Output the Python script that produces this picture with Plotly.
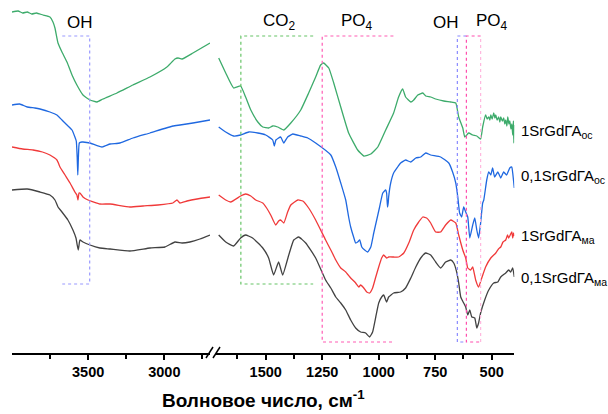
import plotly.graph_objects as go

W, H = 608, 414

# FTIR spectra: (wavenumber cm-1, transmittance a.u. with vertical offsets)
green = [(4000, 341), (3960, 342), (3930, 340), (3900, 341), (3870, 339), (3840, 340),
         (3797, 338), (3751, 336), (3731, 331), (3718, 325), (3698, 310), (3672, 301),
         (3639, 291), (3606, 278), (3574, 268), (3534, 258), (3488, 253), (3442, 251),
         (3403, 254), (3311, 260), (3206, 268), (3094, 276), (2983, 286), (2930, 294),
         (2910, 295), (2884, 294), (2812, 300), (2700, 310),
         (1708, 295), (1677, 280), (1642, 265), (1611, 267), (1589, 256), (1566, 243),
         (1535, 231), (1513, 226), (1487, 225), (1469, 227), (1447, 226), (1420, 223),
         (1389, 230), (1345, 243), (1310, 260), (1279, 276), (1257, 288), (1244, 290),
         (1221, 285), (1199, 270), (1168, 246), (1133, 220), (1093, 203), (1066, 197),
         (1035, 199), (1004, 206), (969, 223), (934, 240), (912, 256), (894, 264),
         (881, 256), (858, 251), (845, 253), (827, 258), (805, 260), (792, 257),
         (770, 256), (748, 254), (712, 252), (681, 251), (659, 250), (646, 236),
         (628, 225), (619, 216), (602, 220), (584, 218), (566, 217), (549, 214),
         (540, 226), (527, 238), (520, 234), (513, 236), (508, 233), (504, 238),
         (498, 234), (491, 240), (486, 235), (482, 238), (476, 233), (469, 236),
         (464, 231), (460, 236), (453, 232), (447, 235), (442, 229), (438, 233),
         (433, 227), (429, 236), (424, 229), (420, 232), (415, 224), (411, 229),
         (407, 218), (404, 232), (402, 210), (400, 228)]

blue = [(4000, 248), (3950, 249), (3900, 246), (3850, 245), (3816, 244), (3751, 241),
        (3705, 238), (3672, 233), (3639, 228), (3606, 223), (3587, 216), (3578, 212),
        (3572, 196), (3568, 178), (3564, 196), (3558, 210), (3541, 211), (3534, 211),
        (3488, 210), (3409, 206), (3356, 209), (3291, 210), (3206, 215), (3094, 220),
        (2944, 227), (2897, 228), (2812, 230), (2700, 233),
        (1708, 226), (1677, 221), (1642, 217), (1611, 218), (1575, 221), (1535, 220),
        (1500, 218), (1469, 213), (1462, 207), (1455, 213), (1434, 216), (1420, 210),
        (1403, 216), (1380, 219), (1345, 217), (1314, 215), (1279, 210), (1212, 198),
        (1190, 186), (1168, 170), (1146, 153), (1133, 136), (1124, 126), (1111, 116),
        (1102, 110), (1093, 111), (1084, 113), (1075, 106), (1062, 103), (1049, 101),
        (1035, 106), (1022, 120), (1009, 133), (996, 146), (982, 160), (969, 163),
        (965, 160), (961, 146), (958, 150), (956, 156), (947, 170), (934, 180),
        (916, 186), (903, 190), (881, 193), (858, 191), (836, 195), (814, 196),
        (792, 200), (770, 198), (726, 196), (690, 190), (673, 181), (659, 170),
        (650, 156), (642, 140), (633, 136), (624, 146), (615, 141), (606, 136),
        (597, 115), (584, 128), (575, 135), (566, 123), (558, 115), (549, 130),
        (540, 150), (535, 153), (522, 173), (513, 181), (504, 178), (496, 185),
        (487, 176), (473, 181), (460, 175), (447, 181), (434, 178), (420, 185),
        (411, 186), (407, 180), (400, 165)]

red = [(4000, 206), (3930, 204), (3862, 203), (3800, 201), (3751, 198), (3705, 193),
       (3685, 186), (3652, 178), (3619, 170), (3587, 161), (3574, 158), (3567, 153),
       (3560, 160), (3554, 160), (3534, 156), (3501, 153), (3423, 149), (3356, 149),
       (3226, 146), (3140, 147), (3042, 148), (2944, 150), (2917, 153), (2897, 150),
       (2851, 152), (2785, 154), (2700, 156),
       (1708, 158), (1677, 153), (1655, 151), (1611, 157), (1589, 159), (1566, 157),
       (1544, 153), (1513, 150), (1496, 145), (1478, 138), (1456, 128), (1443, 132),
       (1434, 133), (1420, 130), (1403, 141), (1389, 148), (1358, 153), (1336, 152),
       (1310, 145), (1279, 133), (1235, 113), (1212, 103), (1190, 93), (1168, 85),
       (1146, 81), (1124, 75), (1102, 70), (1088, 66), (1080, 68), (1066, 65),
       (1053, 61), (1040, 60), (1027, 65), (1013, 76), (1000, 86), (987, 95),
       (978, 98), (965, 95), (956, 96), (934, 96), (912, 96), (889, 100),
       (867, 110), (845, 123), (823, 131), (805, 136), (788, 135), (770, 130),
       (748, 121), (726, 121), (704, 128), (681, 133), (659, 130), (646, 118),
       (628, 103), (615, 95), (606, 85), (593, 83), (584, 86), (571, 73),
       (558, 66), (544, 75), (527, 86), (504, 95), (482, 100), (470, 104),
       (460, 106), (450, 111), (438, 113), (430, 118), (425, 115), (416, 119),
       (411, 121), (407, 115), (403, 120), (400, 117)]

black = [(4000, 163), (3900, 164), (3816, 161), (3751, 158), (3718, 153), (3698, 146),
         (3672, 141), (3633, 133), (3600, 123), (3580, 115), (3572, 108), (3565, 103),
         (3558, 110), (3554, 113), (3534, 111), (3488, 108), (3423, 105), (3356, 104),
         (3226, 102), (3094, 105), (2996, 106), (2930, 111), (2884, 110), (2832, 111),
         (2766, 114), (2700, 118),
         (1708, 118), (1677, 111), (1642, 107), (1611, 115), (1589, 118), (1558, 115),
         (1513, 105), (1487, 95), (1465, 78), (1443, 91), (1425, 78), (1398, 98),
         (1376, 113), (1354, 116), (1323, 110), (1279, 95), (1235, 73), (1212, 65),
         (1190, 56), (1168, 50), (1146, 43), (1124, 33), (1102, 25), (1080, 21),
         (1058, 20), (1040, 16), (1027, 21), (1013, 36), (1000, 50), (987, 56),
         (978, 58), (965, 51), (956, 56), (934, 60), (903, 61), (881, 65),
         (858, 75), (836, 86), (814, 95), (792, 100), (770, 98), (748, 91),
         (726, 85), (704, 91), (681, 93), (668, 90), (655, 81), (646, 70),
         (637, 56), (624, 50), (615, 46), (606, 38), (597, 43), (588, 36),
         (575, 35), (566, 25), (558, 30), (549, 40), (531, 53), (513, 63),
         (491, 70), (473, 71), (460, 76), (438, 80), (425, 83), (416, 81),
         (407, 85), (400, 76)]

series_names = ["1SrGdГА<sub>ос</sub>", "0,1SrGdГА<sub>ос</sub>",
                "1SrGdГА<sub>ма</sub>", "0,1SrGdГА<sub>ма</sub>"]
series_colors = ["#3dab6b", "#1f68e0", "#f03a3a", "#424242"]
label_levels = [222, 177, 117, 75]

hi_ticks = [3500, 3000]
hi_minor = [3750, 3250, 2750]
lo_ticks = [1500, 1250, 1000, 750, 500]

# band regions drawn as open brackets: (axis, x_open, x_closed, y_bottom, colour)
bands = [("x", 3670, 3490, 69, "#9a9aff"),
         ("x2", 1290, 1610, 69, "#66c466"),
         ("x2", 935, 1250, 11, "#ff5cb4"),
         ("x2", 612, 652, 11, "#8a8aff")]
band_top = 317

FONT = "Arial, Liberation Sans, sans-serif"

fig = go.Figure()
for pts, color in zip([green, blue, red, black], series_colors):
    for axis, keep in (("x", lambda w: w > 2000), ("x2", lambda w: w < 2000)):
        seg = [p for p in pts if keep(p[0])]
        fig.add_trace(go.Scatter(
            x=[p[0] for p in seg], y=[p[1] for p in seg], xaxis=axis, yaxis="y",
            mode="lines", showlegend=False, hoverinfo="skip",
            line=dict(color=color, width=1.3, shape="spline", smoothing=0.4)))

shapes = []
for ax, xa, xb, yb, col in bands:
    shapes.append(dict(type="path", xref=ax, yref="y",
                       path=f"M {xa},{band_top} L {xb},{band_top} L {xb},{yb} L {xa},{yb}",
                       line=dict(color=col, width=1.2, dash="dot")))
# second phosphate band: bright left edge, pale right edge
shapes.append(dict(type="path", xref="x2", yref="y",
                   path=f"M 549,{band_top} L 612,{band_top} L 612,11 L 549,11",
                   line=dict(color="#ff4fae", width=1.2, dash="dot")))
shapes.append(dict(type="line", xref="x2", yref="y", x0=549, x1=549, y0=11, y1=band_top,
                   line=dict(color="#ffb8de", width=1.2, dash="dot")))

# axis break marks
for x0 in (206, 213):
    shapes.append(dict(type="line", xref="paper", yref="paper",
                       x0=x0 / W, x1=(x0 + 7) / W, y0=-5 / 353, y1=6 / 353,
                       line=dict(color="black", width=1.5)))

annotations = []
band_labels = [("OH", "x", 3555), ("CO<sub>2</sub>", "x2", 1438),
               ("PO<sub>4</sub>", "x2", 1097), ("OH", "x2", 704), ("PO<sub>4</sub>", "x2", 500)]
for txt, ax, xv in band_labels:
    annotations.append(dict(text=txt, xref=ax, yref="y", x=xv, y=331, showarrow=False,
                            xanchor="center", yanchor="middle",
                            font=dict(family=FONT, size=17, color="black")))
for name, lv in zip(series_names, label_levels):
    annotations.append(dict(text=name, xref="paper", yref="y", x=519 / W, y=lv,
                            showarrow=False, xanchor="left", yanchor="middle",
                            font=dict(family=FONT, size=15, color="black")))
annotations.append(dict(text="<b>Волновое число, см<sup>-1</sup></b>", xref="paper", yref="paper",
                        x=263 / W, y=-60 / 353, showarrow=False, xanchor="center",
                        yanchor="bottom", font=dict(family=FONT, size=19, color="black")))

axis_common = dict(showline=True, linecolor="black", linewidth=1.5, ticks="outside",
                   ticklen=5, tickwidth=1.5, tickcolor="black", showgrid=False,
                   zeroline=False, anchor="y",
                   tickfont=dict(family=FONT, size=14.5, color="black", weight="bold"))

fig.update_layout(
    width=W, height=H, paper_bgcolor="white", plot_bgcolor="white",
    margin=dict(l=0, r=0, t=0, b=61),
    xaxis=dict(domain=[12 / W, 210 / W], range=[4000, 2700], tickvals=hi_ticks,
               minor=dict(tickvals=hi_minor, ticks="outside", ticklen=4, tickwidth=1.5,
                          tickcolor="black"), **axis_common),
    xaxis2=dict(domain=[216 / W, 514.3 / W], range=[1720, 400], tickvals=lo_ticks,
                minor=dict(dtick=125, tick0=0, ticks="outside", ticklen=4, tickwidth=1.5,
                           tickcolor="black"), **axis_common),
    yaxis=dict(range=[0, 353], visible=False),
    shapes=shapes, annotations=annotations,
)

fig.write_html("out.html")
